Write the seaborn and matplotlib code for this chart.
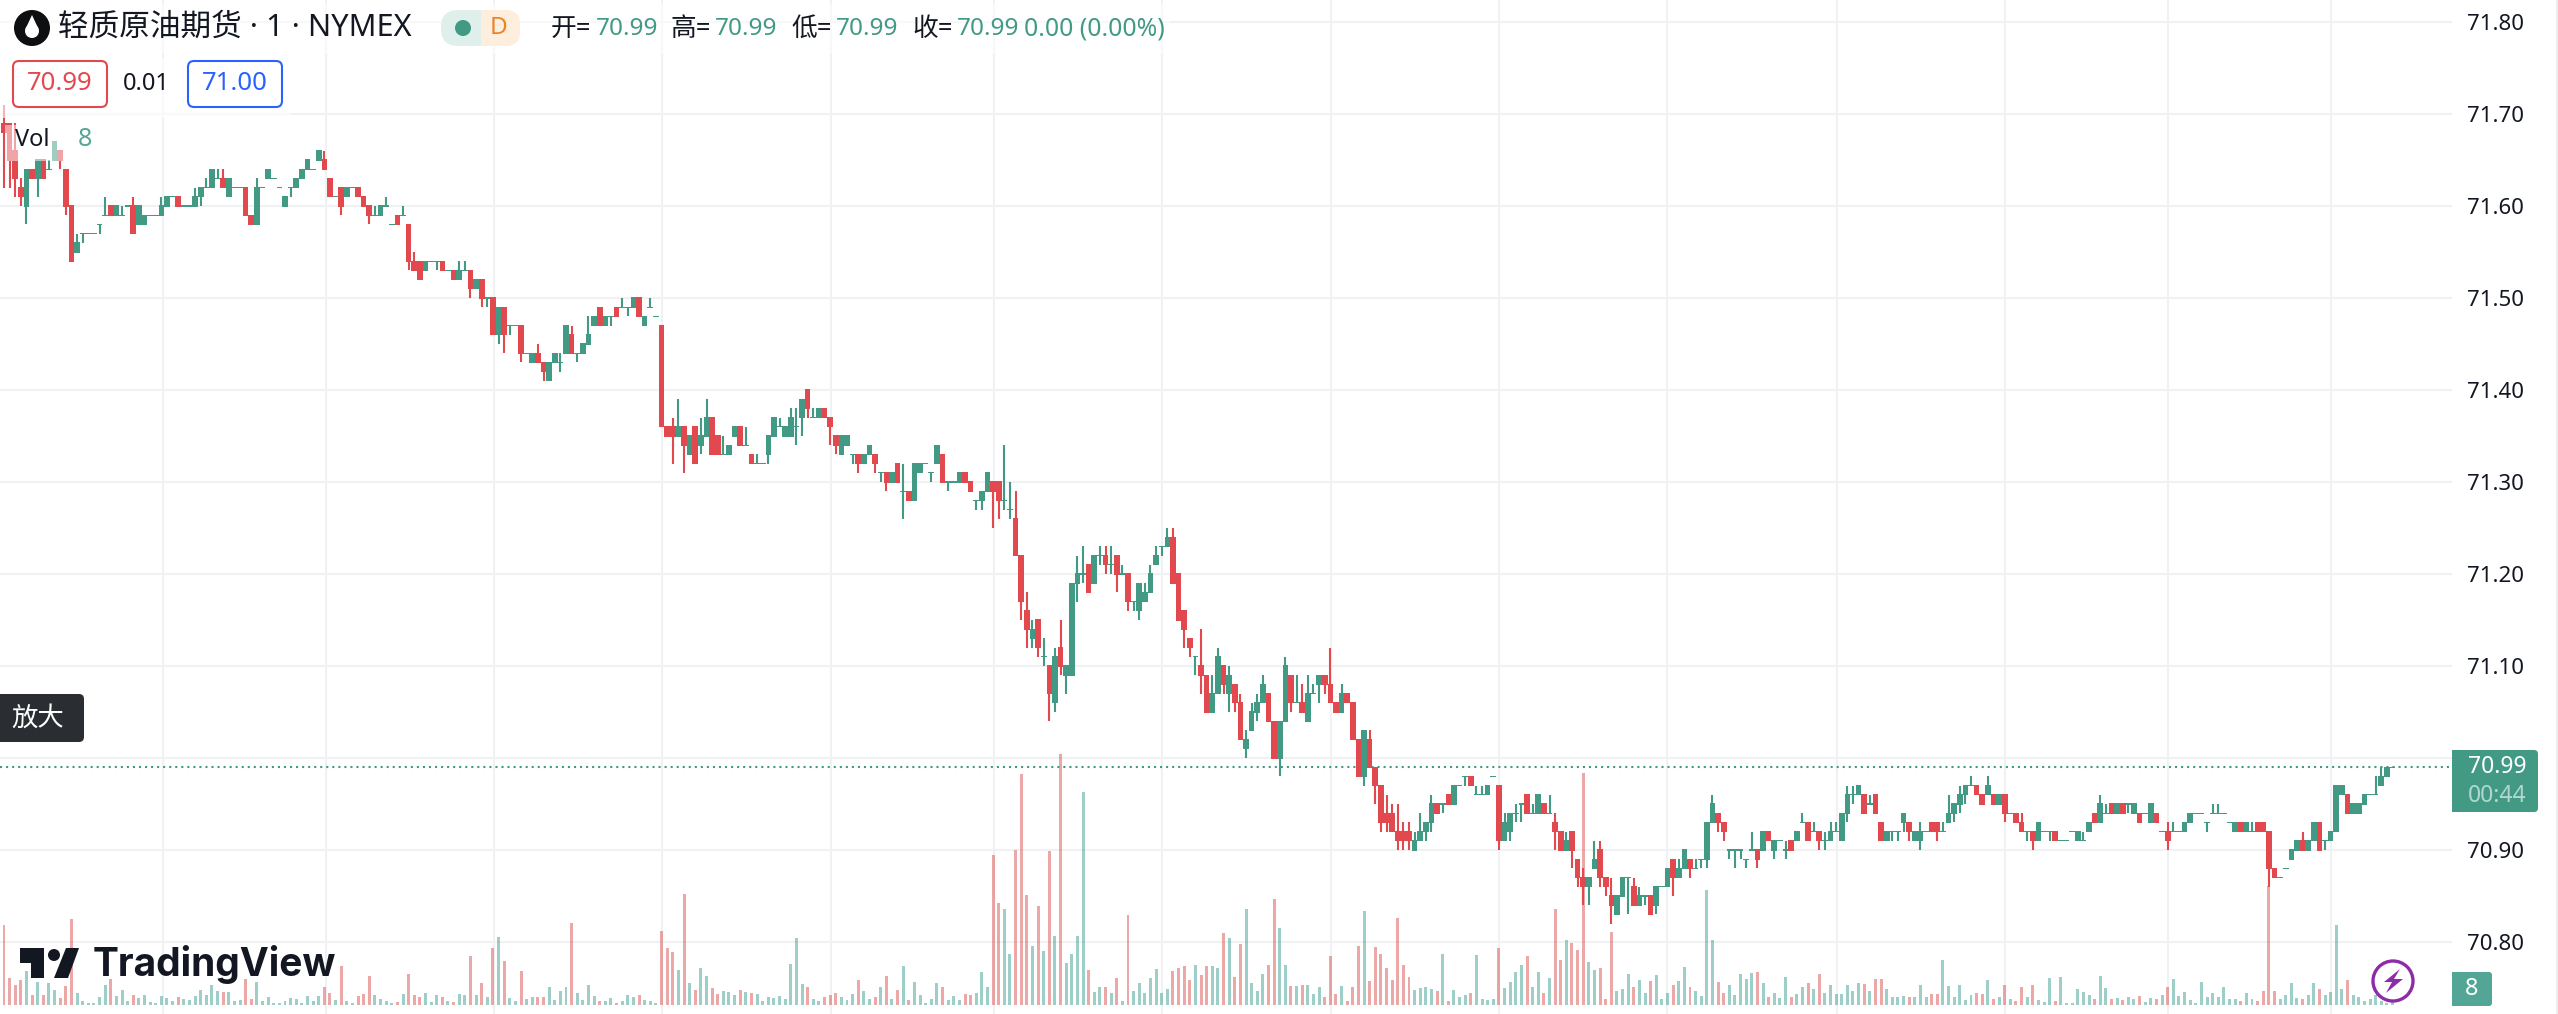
import matplotlib
matplotlib.use('Agg')
import matplotlib.pyplot as plt
from matplotlib.patches import Circle, FancyBboxPatch, Polygon, Rectangle
import pandas as pd
import seaborn as sns

# prices are cents above 70.00, one entry per one-minute bar, ten to a row
opens = [169,169,166,162,160,164,163,165,164,165,
 166,164,160,155,157,157,157,158,159,160,
 159,159,160,160,158,158,159,159,159,160,
 161,161,160,160,160,161,162,162,163,163,
 161,162,162,162,159,158,162,163,163,162,
 160,162,162,163,164,164,165,165,163,161,
 162,161,162,162,161,160,159,159,160,158,
 159,159,158,154,154,153,154,154,154,153,
 153,152,153,153,151,152,150,150,146,149,
 147,147,147,144,143,144,143,141,143,143,
 144,146,144,144,145,147,149,147,148,149,
 149,149,149,150,147,149,148,147,136,136,
 135,136,133,136,134,135,137,135,133,133,
 135,136,134,133,132,132,133,135,136,135,
 135,136,137,140,137,137,138,137,135,133,
 134,133,133,132,133,133,131,131,130,132,
 129,129,128,131,132,131,132,133,130,130,
 130,131,130,128,128,129,130,130,128,127,
 126,122,116,113,115,111,110,106,112,109,
 109,119,120,121,119,122,122,121,122,120,
 120,117,116,117,118,121,123,123,124,120,
 116,113,111,110,109,105,107,110,107,108,
 106,101,103,105,106,107,104,100,104,109,
 106,106,104,107,108,109,108,106,105,107,
 106,102,98,102,99,97,94,94,92,92,
 92,90,91,92,93,95,95,96,95,97,
 98,98,96,96,96,98,97,91,92,94,
 95,96,94,94,95,94,93,92,90,92,
 89,87,86,88,90,87,85,83,85,87,
 86,84,85,85,84,86,86,89,87,88,
 89,88,89,89,93,94,93,90,90,90,
 89,90,90,90,92,90,91,90,91,91,
 93,93,92,92,91,91,92,91,94,96,
 96,96,95,96,93,91,92,92,93,93,
 91,91,92,93,93,92,93,94,95,96,
 97,97,96,96,96,95,96,94,94,93,
 92,92,91,92,92,92,91,91,92,91,
 91,92,94,93,94,95,94,95,95,94,
 94,94,93,94,92,92,92,92,92,93,
 94,94,93,94,94,94,93,92,93,92,
 92,93,93,92,88,87,88,89,90,91,
 90,91,93,91,91,92,96,96,94,94,
 95,96,96,97,98,99]
closes = [168,165,163,161,164,163,165,163,164,167,
 165,160,154,156,157,157,157,158,159,159,
 160,159,160,157,160,159,159,159,160,161,
 161,160,160,160,161,162,162,164,163,162,
 163,162,162,159,158,162,162,164,163,162,
 161,162,163,164,165,164,166,164,161,161,
 160,162,162,161,160,159,159,160,160,158,
 158,159,154,153,152,154,154,154,153,153,
 152,153,153,151,152,150,150,146,149,146,
 147,147,144,144,144,143,142,143,144,143,
 147,144,144,145,146,148,147,148,148,148,
 149,149,150,148,148,149,148,136,135,135,
 136,134,135,132,135,137,133,133,133,134,
 136,134,134,132,132,132,135,137,136,136,
 137,136,139,138,137,138,137,136,134,135,
 135,133,132,133,134,132,131,130,131,130,
 129,128,132,132,132,131,134,130,130,130,
 131,130,129,128,129,131,129,128,128,127,
 122,117,114,114,112,111,107,111,110,110,
 119,120,120,118,122,122,121,121,120,120,
 117,117,119,118,120,122,123,124,119,115,
 114,112,111,109,105,107,111,108,109,106,
 102,102,105,106,108,104,100,104,110,106,
 106,105,107,107,109,108,106,105,107,106,
 102,98,103,99,97,93,93,92,91,91,
 91,91,92,93,95,94,95,95,97,97,
 98,97,96,96,97,98,91,93,94,94,
 95,94,94,96,94,94,92,90,91,90,
 87,86,87,89,87,86,84,85,87,87,
 84,85,85,83,86,86,88,87,88,90,
 88,88,89,93,95,93,92,90,90,90,
 89,90,89,92,91,91,91,90,90,92,
 93,91,92,91,91,92,92,94,96,96,
 97,94,95,94,91,92,92,92,94,92,
 92,92,92,92,92,92,94,95,96,97,
 97,96,95,97,95,96,94,94,93,92,
 92,91,93,92,92,91,91,91,92,92,
 91,93,93,95,94,94,95,94,95,95,
 93,94,95,93,92,91,92,92,93,94,
 94,94,93,94,94,94,93,93,92,93,
 92,92,92,88,87,87,88,90,91,90,
 91,93,90,91,92,97,97,94,95,95,
 96,96,96,98,99,99]
highs = [171,169,169,163,164,164,165,165,165,167,
 166,164,160,157,157,157,157,158,161,160,
 160,160,160,161,160,159,159,159,161,161,
 161,161,160,160,162,162,163,164,164,164,
 163,162,162,162,159,163,162,164,163,162,
 161,162,163,164,165,164,166,166,163,161,
 162,162,162,162,161,160,160,160,161,158,
 159,160,158,155,154,154,154,154,154,153,
 153,154,154,153,152,152,150,150,149,149,
 147,147,147,144,144,145,143,143,144,144,
 147,147,144,145,148,148,149,148,148,149,
 150,149,150,150,148,150,148,147,136,137,
 139,136,135,136,137,139,137,135,135,134,
 136,136,136,133,133,132,135,137,137,136,
 138,138,139,140,138,138,138,137,135,135,
 135,133,133,133,134,133,131,131,131,132,
 132,129,132,132,132,131,134,133,130,130,
 131,131,130,128,129,131,130,130,134,130,
 129,122,118,115,115,113,110,112,115,110,
 119,122,123,121,122,123,123,123,122,121,
 120,117,119,119,121,123,123,125,125,120,
 116,113,111,114,109,109,112,110,110,108,
 107,103,106,107,109,107,104,104,111,109,
 109,108,109,108,109,109,112,106,108,107,
 106,102,103,103,99,97,96,95,95,93,
 93,92,94,93,96,95,95,96,97,97,
 98,98,97,97,97,98,97,94,94,95,
 95,96,95,96,95,96,94,92,92,92,
 89,88,87,91,91,87,87,85,87,87,
 87,86,85,85,86,86,88,89,89,90,
 89,89,89,93,96,94,93,90,90,90,
 89,92,90,92,92,91,91,91,91,92,
 94,93,93,92,92,93,93,94,97,97,
 97,96,96,96,93,92,92,92,94,93,
 92,93,92,93,93,93,96,95,97,97,
 98,97,96,98,96,96,96,94,94,94,
 92,92,93,92,92,92,91,91,92,92,
 92,93,94,96,95,95,95,95,95,95,
 94,94,95,94,92,93,93,92,93,94,
 94,94,93,95,95,94,93,93,93,93,
 93,93,93,92,88,87,88,90,91,92,
 91,93,93,91,92,97,97,96,95,95,
 96,96,98,99,99,99]
lows = [162,162,161,160,158,163,161,163,164,165,
 164,159,154,155,156,157,157,157,159,159,
 159,159,160,157,158,158,159,159,159,160,
 161,160,160,160,160,160,162,162,163,162,
 161,162,162,159,158,158,162,163,163,162,
 160,161,162,163,164,164,165,164,161,161,
 159,161,162,161,160,158,159,159,160,158,
 158,159,153,153,152,153,154,153,153,153,
 152,152,153,150,151,149,149,146,145,144,
 146,147,143,144,143,143,141,141,143,142,
 144,144,143,144,145,147,147,147,147,148,
 149,148,149,148,147,149,148,136,135,132,
 135,131,133,132,133,135,133,133,133,133,
 135,134,134,132,132,132,132,135,136,135,
 135,134,135,137,137,137,137,134,133,133,
 134,132,131,132,133,131,130,129,130,130,
 126,128,128,131,132,130,132,130,129,130,
 130,130,129,127,127,129,125,126,127,126,
 122,115,112,112,111,110,104,105,109,107,
 109,117,119,118,119,121,120,120,118,120,
 116,116,115,117,118,121,122,123,119,115,
 112,111,109,107,105,105,107,107,105,105,
 102,100,103,104,106,104,100,98,104,105,
 106,105,104,107,106,107,106,105,105,106,
 102,98,97,99,95,92,92,92,90,90,
 90,90,91,91,92,94,94,95,95,97,
 97,97,96,96,96,98,90,91,91,93,
 93,94,94,94,94,94,90,90,90,88,
 86,84,84,88,86,85,82,83,85,83,
 84,84,84,83,83,86,86,85,87,88,
 87,88,88,88,93,92,91,89,88,89,
 88,90,88,90,91,89,91,89,90,91,
 93,91,92,90,90,91,92,91,93,95,
 96,94,95,94,91,91,91,91,92,91,
 91,90,92,92,91,92,93,93,94,95,
 97,96,95,96,95,95,93,94,93,92,
 91,90,91,92,91,91,91,91,92,91,
 91,92,93,93,94,94,94,94,94,94,
 93,94,93,93,92,90,92,92,92,93,
 94,94,92,94,94,94,93,92,92,92,
 92,92,92,86,87,87,88,89,90,90,
 90,91,90,90,91,92,96,94,94,94,
 95,96,96,97,98,99]
volumes = [240,81,60,75,102,30,69,30,66,45,21,57,258,36,12,6,6,24,60,78,
 27,45,12,30,21,30,9,6,27,21,12,24,18,15,27,45,30,60,42,39,
 39,12,15,78,18,69,12,24,6,6,12,21,18,6,27,12,27,54,36,15,
 117,12,6,27,33,87,30,18,12,6,9,33,93,30,24,36,9,30,24,12,
 9,33,30,147,30,66,24,171,204,132,21,12,102,18,24,24,24,54,15,42,
 54,246,36,15,60,27,12,12,21,6,12,30,24,30,15,12,6,222,171,159,
 105,333,66,45,111,87,51,33,42,39,30,45,39,36,33,12,24,21,27,18,
 123,201,63,54,18,12,24,30,36,24,15,33,75,42,18,24,54,87,18,45,
 117,15,69,30,6,18,66,54,15,27,15,33,30,36,99,54,450,306,288,153,
 465,693,330,177,297,162,462,207,753,126,153,207,639,105,39,54,54,36,81,12,
 270,42,66,36,81,108,36,48,102,111,117,75,120,90,117,117,111,216,201,84,
 183,288,66,42,93,120,318,231,120,57,57,60,60,33,54,24,147,33,57,12,
 54,177,282,72,174,153,111,75,261,120,84,45,51,54,48,42,153,12,45,24,
 30,36,150,18,15,18,171,51,69,99,120,147,54,99,36,81,288,135,195,186,
 165,696,129,105,111,18,219,42,48,93,54,75,36,72,90,18,36,60,72,114,
 54,42,27,345,195,69,36,60,30,93,78,96,99,66,24,36,21,84,24,33,
 54,66,48,93,36,60,33,33,60,42,66,63,42,78,78,48,24,24,27,24,
 24,60,24,33,33,135,57,24,60,15,30,36,33,75,18,24,60,18,12,54,
 24,60,15,9,81,12,84,6,6,48,39,30,18,87,51,18,21,15,24,18,
 27,9,21,18,30,54,78,27,39,15,6,69,24,36,24,54,18,18,12,36,
 18,12,42,357,42,18,30,66,21,18,30,66,48,30,39,240,48,75,30,24,
 12,18,30,12,6,8]

price_ticks = [70.8, 70.9, 71.0, 71.1, 71.2, 71.3, 71.4, 71.5, 71.6, 71.7, 71.8]
grid_bars = [28.3, 57.3, 87.2, 117.1, 147.2, 176.2, 206.1, 236.2, 266, 295.9, 326.2, 356.1, 385.1, 414.1]
last_price = 70.99

assert len(opens) == len(closes) == len(highs) == len(lows) == len(volumes) == 426

df = pd.DataFrame({'bar': range(426), 'open': opens, 'close': closes,
                   'high': highs, 'low': lows, 'volume': volumes})
for c in ['open', 'close', 'high', 'low']:
    df[c] = 70 + df[c] / 100
df['side'] = ['up' if c >= o else 'down' for o, c in zip(df['open'], df['close'])]

UP = '#429a85'
DOWN = '#e2494f'
TEXT = '#131722'
GRID = '#f0f1f2'

sns.set_theme(style='white')
plt.rcParams['font.family'] = ['Noto Sans', 'Noto Sans CJK SC', 'DejaVu Sans']

fig = plt.figure(figsize=(25.58, 10.14), dpi=100)
rect = [0, 0, 2452 / 2558, 1]
PITCH = 5.62
xlim = (-4 / PITCH, (2452 - 4) / PITCH)

# price scale: 0.10 = 92 px, 70.80 sits 72 px over the bottom edge
ax = fig.add_axes(rect, zorder=1)
ax.set_xlim(xlim)
ax.set_ylim(70.80 - 72 / 920, 71.80 + 22 / 920)
ax.set_xticks(grid_bars)
ax.set_xticklabels([])
ax.set_yticks(price_ticks)
# 71.00 sits under the last price tag in the reference
ax.set_yticklabels(['' if p == 71.0 else f'{p:.2f}' for p in price_ticks], fontsize=16, color=TEXT)
ax.yaxis.tick_right()
ax.tick_params(axis='both', length=0)
ax.tick_params(axis='y', pad=11)
ax.grid(True, color=GRID, lw=1.5)
sns.despine(ax=ax, left=True, right=True, top=True, bottom=True)

axv = fig.add_axes(rect, zorder=2)
axv.patch.set_alpha(0)
sns.barplot(data=df, x='bar', y='volume', hue='side', native_scale=True, dodge=False,
            palette={'up': '#3f9f93', 'down': '#d9534f'}, alpha=0.5, width=0.53,
            saturation=1, errorbar=None, legend=False, ax=axv, linewidth=0)
axv.set_xlim(xlim)
axv.set_ylim(-27, 3015)
axv.axis('off')

axc = fig.add_axes(rect, zorder=3)
axc.patch.set_alpha(0)
axc.set_xlim(ax.get_xlim())
axc.set_ylim(ax.get_ylim())
axc.axis('off')
axc.axhline(last_price, color=UP, lw=1.5, dashes=(1.0, 1.9), zorder=1)
colors = df['side'].map({'up': UP, 'down': DOWN})
axc.vlines(df['bar'], df['low'], df['high'], colors=colors, lw=1.5, zorder=2)
body_low = df[['open', 'close']].min(axis=1) - 0.0006
body_h = (df['open'] - df['close']).abs() + 0.0012
axc.bar(df['bar'], body_h, bottom=body_low, width=1.0, color=colors, linewidth=0, zorder=3)

# everything that lives in screen pixels: legend, tags, logo
top = fig.add_axes([0, 0, 1, 1], zorder=5)
top.set_xlim(0, 2558)
top.set_ylim(1014, 0)
top.axis('off')
top.patch.set_alpha(0)


def label(x, y, s, size=17, color=TEXT, ha='left', **kw):
    top.text(x, y, s, fontsize=size, color=color, ha=ha, va='center', **kw)


def box(x0, y0, x1, y1, r=6, **kw):
    top.add_patch(FancyBboxPatch((x0 + r, y0 + r), x1 - x0 - 2 * r, y1 - y0 - 2 * r,
                                 boxstyle=f'round,pad={r},rounding_size={r}', **kw))


# translucent legend backing
top.add_patch(Rectangle((0, 4), 1170, 50, color='white', alpha=0.55, lw=0))
top.add_patch(Rectangle((0, 58), 291, 60, color='white', alpha=0.6, lw=0))
top.add_patch(Rectangle((5, 125), 58, 36, color='white', alpha=0.5, lw=0))

# symbol icon and title
top.add_patch(Circle((32, 28), 18, color='#0e0f11', lw=0))
top.add_patch(Circle((32, 31), 7, color='white', lw=0))
top.add_patch(Polygon([(25.5, 29), (32, 15), (38.5, 29)], color='white', lw=0))
label(58, 28, '轻质原油期货 · 1 · NYMEX', size=22.1)

# status pill
box(441, 10, 520, 46, r=17, fc='#dff0ec', ec='none')
top.add_patch(Rectangle((481, 10), 22, 36, color='#fdeedd', lw=0))
box(490, 10, 520, 46, r=14, fc='#fdeedd', ec='none')
top.add_patch(Circle((463, 28), 8, color=UP, lw=0))
label(499, 28, 'D', size=17.5, color='#ea8427', ha='center', weight='bold')

# OHLC row
for x, name in zip([551, 670, 791, 912], ['开=', '高=', '低=', '收=']):
    label(x, 29, name, size=18.5)
    label(x + 45, 29, '70.99', size=17.5, color=UP)
label(1024, 29, '0.00 (0.00%)', size=17.8, color=UP)

# bid / ask boxes
box(13, 61, 107, 107, fc='white', ec=DOWN, lw=1.5)
label(60, 84, '70.99', size=18.5, color=DOWN, ha='center')
label(146, 84, '0.01', size=17, ha='center')
box(188, 61, 282, 107, fc='white', ec='#2962ff', lw=1.5)
label(235, 84, '71.00', size=18.5, color='#2962ff', ha='center')

label(15, 140, 'Vol', size=17)
label(78, 140, '8', size=18, color='#53a596')

box(-10, 694, 84, 742, r=5, fc='#2a2e33', ec='none')
label(38, 718, '放大', size=19, color='white', ha='center', family=['Noto Sans CJK SC', 'DejaVu Sans'])

# TradingView mark
top.add_patch(Polygon([(20, 948), (44, 948), (44, 978), (31, 978), (31, 963), (20, 963)], color=TEXT, lw=0))
top.add_patch(Circle((54, 955), 6, color=TEXT, lw=0))
top.add_patch(Polygon([(66, 948), (79, 948), (68, 978), (54, 978)], color=TEXT, lw=0))
label(93, 965, 'TradingView', size=28, weight='bold', family=['Inter', 'DejaVu Sans'])

# last price and volume tags on the scale
box(2452, 750, 2538, 812, r=4, fc=UP, ec='none')
top.add_patch(Rectangle((2452, 750), 10, 62, color=UP, lw=0))
label(2497, 767, '70.99', size=16.5, color='white', ha='center')
label(2497, 796, '00:44', size=16.5, color='white', ha='center', alpha=0.6)
box(2452, 972, 2492, 1006, r=3, fc='#53a596', ec='none')
top.add_patch(Rectangle((2452, 972), 8, 34, color='#53a596', lw=0))
label(2472, 989, '8', size=17, color='white', ha='center')

# lightning button
top.add_patch(Circle((2393, 981), 20, fc='white', ec='#8e2ca8', lw=2.4))
top.add_patch(Polygon([(2400, 969), (2384, 982), (2392, 982), (2386, 993), (2403, 979), (2394, 979)],
                      color='#8e2ca8', lw=0))

top.add_patch(Rectangle((2556, 0), 2, 1014, color='#eeeeee', lw=0))

fig.savefig('out.png', dpi=100)
